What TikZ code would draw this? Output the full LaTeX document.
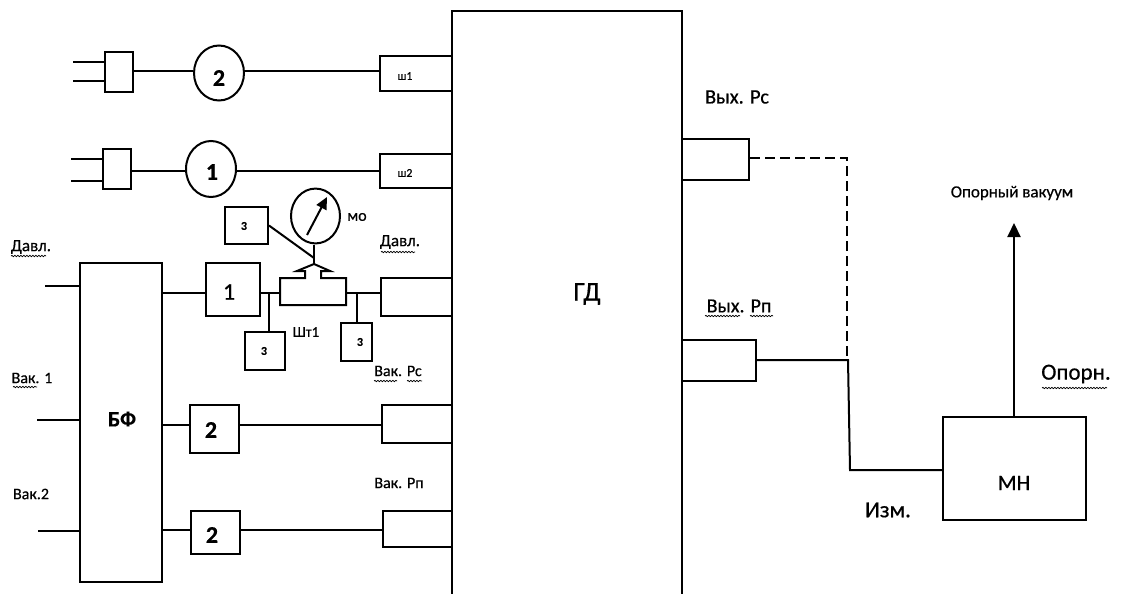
\documentclass[tikz,border=0pt]{standalone}
\usepackage{fontspec}
\setmainfont{Carlito}[FakeBold=0.5,RawFeature={embolden=0.5}]
\usetikzlibrary{arrows.meta,decorations.pathmorphing}
\newcommand{\bx}[5]{\node[box,minimum width={(#4-#2)*1pt},minimum height={(#5-#3)*1pt}] (#1) at ({(#2+#4)/2},{(#3+#5)/2}) {};}
\newcommand{\lab}[5][]{\node[txt,font=\fontsize{#2pt}{#2pt}\selectfont,#1] at (#3,#4) {#5};}
\tikzset{
  box/.style={draw=black,line width=2pt,fill=white,inner sep=0pt,rectangle},
  ellipse box/.style={circle,inner sep=0pt},
  wire/.style={draw=black,line width=2pt},
  txt/.style={inner sep=0pt,text=black},
  wavy/.style={draw=black,line width=.7pt,decorate,decoration={snake,amplitude=.7pt,segment length=3pt}}
}
\begin{document}
\begin{tikzpicture}[x=1pt,y=-1pt]
\useasboundingbox (0,0) rectangle (1127,594);
\clip (0,0) rectangle (1127,594);
\fill[white] (0,0) rectangle (1127,594);
% main blocks
\bx{gd}{452}{11}{682}{610}
\bx{bf}{80}{263}{162}{582}
\bx{mn}{943}{417}{1086}{520}
% left ports on GD
\bx{sh1}{380}{56}{452}{91}
\bx{sh2}{380}{154}{452}{188}
\bx{pd}{381}{278}{452}{316}
\bx{pc}{382}{405}{452}{443}
\bx{pp}{383}{511}{452}{547}
% right ports
\bx{vc}{682}{139}{749}{180}
\bx{vp}{682}{340}{756}{381}
% plugs
\bx{pl1}{105}{52}{133}{92}
\bx{pl2}{103}{149}{131}{189}
\coordinate (a1) at (73,62); \coordinate (a2) at (73,81);
\coordinate (b1) at (71,159); \coordinate (b2) at (71,181);
\draw[wire] (a1) -- (pl1.west |- a1);
\draw[wire] (a2) -- (pl1.west |- a2);
\draw[wire] (b1) -- (pl2.west |- b1);
\draw[wire] (b2) -- (pl2.west |- b2);
% motors
\node[draw=black,line width=2pt,fill=white,ellipse box,minimum size=50pt,yscale=1.1] (m2) at (219,73) {};
\node[draw=black,line width=2pt,fill=white,ellipse box,minimum size=50pt,yscale=1.12] (m1) at (211,169) {};
\coordinate (t1) at (0,71); \coordinate (t2) at (0,171);
\draw[wire] (pl1.east |- t1) -- (m2.west |- t1);
\draw[wire] (m2.east |- t1) -- (sh1.west |- t1);
\draw[wire] (pl2.east |- t2) -- (m1.west |- t2);
\draw[wire] (m1.east |- t2) -- (sh2.west |- t2);
% BF row
\bx{k1}{206}{263}{260}{316}
\bx{k2}{190}{405}{239}{453}
\bx{k3}{191}{511}{240}{554}
\coordinate (r1) at (0,293); \coordinate (r2) at (0,425); \coordinate (r3) at (0,530);
\draw[wire] (bf.east |- r1) -- (k1.west |- r1);
\draw[wire] (bf.east |- r2) -- (k2.west |- r2);
\draw[wire] (k2.east |- r2) -- (pc.west |- r2);
\draw[wire] (bf.east |- r3) -- (k3.west |- r3);
\draw[wire] (k3.east |- r3) -- (pp.west |- r3);
\coordinate (i1) at (45,286); \coordinate (i2) at (37,420); \coordinate (i3) at (38,531);
\draw[wire] (i1) -- (bf.west |- i1);
\draw[wire] (i2) -- (bf.west |- i2);
\draw[wire] (i3) -- (bf.west |- i3);
% fitting
\draw[wire,fill=white] (280,305) -- (280,278) -- (305,278) -- (305,271) -- (297,271) -- (314,264) -- (330,271) -- (321,271) -- (321,278) -- (346,278) -- (346,305) -- cycle;
\coordinate (fl) at (280,293); \coordinate (fr) at (346,293); \coordinate (ft) at (314,264);
\draw[wire] (k1.east |- r1) -- (fl);
\draw[wire] (fr) -- (pd.west |- r1);
% small boxes 3
\bx{z1}{225}{207}{268}{244}
\bx{z2}{245}{332}{285}{370}
\bx{z3}{341}{323}{372}{361}
\coordinate (j1) at (269,293); \coordinate (j2) at (357,293);
\draw[wire] (j1) -- (j1 |- z2.north);
\draw[wire] (j2) -- (j2 |- z3.north);
% gauge
\node[draw=black,line width=2pt,fill=white,ellipse box,minimum size=49pt,yscale=1.12] (g) at (315.5,216) {};
\draw[wire] (g.south -| ft) -- (ft);
\draw[wire] (z1.east) -- (314,258);
\coordinate (n1) at (307,235); \coordinate (n2) at (327,197);
\draw[wire,-{Triangle[length=12pt,width=11pt]}] (n1) -- (n2);
% output
\coordinate (c1) at (847,158); \coordinate (c2) at (848,360); \coordinate (c3) at (850,470);
\draw[wire,dash pattern=on 10pt off 5pt] (vc.east |- c1) -- (c1) -- (c1 |- c2);
\draw[wire] (vp.east |- c2) -- (c2) -- (c3) -- (mn.west |- c3);
\coordinate (top) at (1014,223);
\draw[wire,-{Triangle[length=14pt,width=13pt]}] (mn.north -| top) -- (top);
% labels
\lab{22}{122}{419}{\bfseries БФ}
\lab{27}{587}{294}{ГД}
\lab{22}{1014}{483}{МН}
\lab{24}{219}{78}{\bfseries 2}
\lab{24}{212}{172}{\bfseries 1}
\lab{24}{229}{292}{1}
\lab{24}{211}{430}{\bfseries 2}
\lab{24}{212}{535}{\bfseries 2}
\lab{12}{405}{76}{ш1}
\lab{12}{405}{173}{ш2}
\lab{12}{244}{226}{\bfseries 3}
\lab{12}{264}{351}{\bfseries 3}
\lab{12}{360}{342}{\bfseries 3}
\lab{16}{357}{217}{мо}
\lab{15}{306}{332}{Шт1}
\lab{17}{31}{247}{Давл.}
\lab{16}{32}{378}{Вак. 1}
\lab{16}{31}{494}{Вак.2}
\lab{17}{400}{242}{Давл.}
\lab{16}{398}{371}{Вак. Рс}
\lab{16}{399}{483}{Вак. Рп}
\lab{20.5}{737}{97}{Вых. Рс}
\lab{20}{739}{306}{Вых. Рп}
\lab{17}{1012}{193}{Опорный вакуум}
\lab{23}{1076}{374}{Опорн.}
\lab{23}{888}{510}{Изм.}
% wavy underlines
\draw[wavy] (11,256) -- (46,256);
\draw[wavy] (13,387) -- (37,387);
\draw[wavy] (381,252) -- (415,252);
\draw[wavy] (374,381) -- (397,381);
\draw[wavy] (407,381) -- (422,381);
\draw[wavy] (705,316) -- (740,316);
\draw[wavy] (750,316) -- (773,316);
\draw[wavy] (1042,388) -- (1107,388);
\end{tikzpicture}
\end{document}
